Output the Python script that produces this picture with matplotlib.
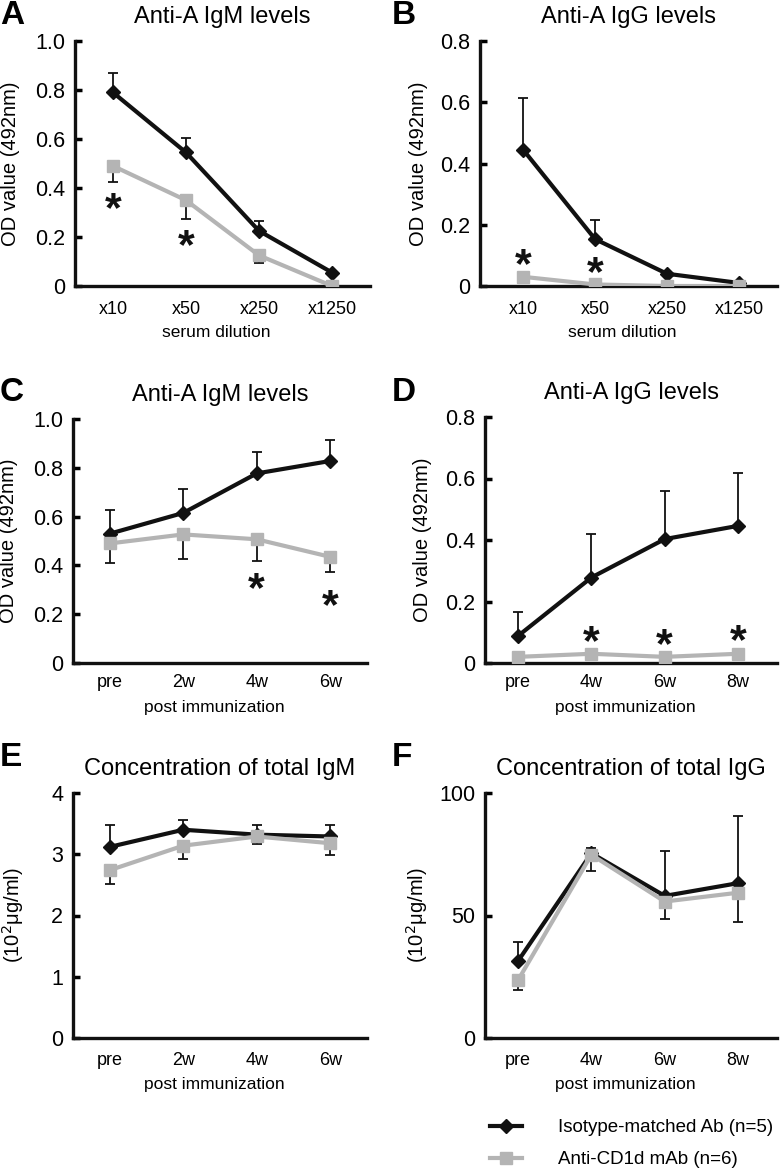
import numpy as np
import matplotlib
matplotlib.use("Agg")
import matplotlib.pyplot as plt

plt.rcParams['font.family'] = ['Liberation Sans', 'DejaVu Sans']

BLACK = '#111111'
GREY = '#b4b4b4'

dilution = ['x10', 'x50', 'x250', 'x1250']
weeks_m = ['pre', '2w', '4w', '6w']
weeks_g = ['pre', '4w', '6w', '8w']

# A: anti-A IgM, serum dilution
a_iso = [0.79, 0.545, 0.225, 0.055]
a_iso_err = [0.08, 0.06, 0.04, 0.0]
a_cd1d = [0.49, 0.35, 0.125, 0.0]
a_cd1d_err = [0.065, 0.075, 0.03, 0.0]
a_stars = [(0, 0.35), (1, 0.20)]

# B: anti-A IgG, serum dilution
b_iso = [0.445, 0.153, 0.04, 0.01]
b_iso_err = [0.17, 0.062, 0.0, 0.003]
b_cd1d = [0.03, 0.005, 0.0, 0.0]
b_cd1d_err = [0.0, 0.0, 0.0, 0.0]
b_stars = [(0, 0.098), (1, 0.069)]

# C: anti-A IgM, post immunization
c_iso = [0.53, 0.615, 0.777, 0.828]
c_iso_err = [0.095, 0.10, 0.087, 0.087]
c_cd1d = [0.49, 0.527, 0.507, 0.435]
c_cd1d_err = [0.08, 0.10, 0.087, 0.061]
c_stars = [(2, 0.34), (3, 0.27)]

# D: anti-A IgG, post immunization
d_iso = [0.088, 0.278, 0.403, 0.446]
d_iso_err = [0.078, 0.142, 0.157, 0.171]
d_cd1d = [0.02, 0.03, 0.02, 0.03]
d_cd1d_err = [0.0, 0.0, 0.0, 0.0]
d_stars = [(1, 0.096), (2, 0.085), (3, 0.10)]

# E: total IgM
e_iso = [3.12, 3.40, 3.32, 3.29]
e_iso_err = [0.36, 0.16, 0.16, 0.18]
e_cd1d = [2.74, 3.14, 3.29, 3.18]
e_cd1d_err = [0.22, 0.22, 0.12, 0.20]

# F: total IgG
f_iso = [31.4, 75.4, 58.0, 63.2]
f_iso_err = [7.9, 2.0, 18.5, 27.3]
f_cd1d = [23.6, 74.8, 55.7, 59.3]
f_cd1d_err = [4.1, 6.6, 7.3, 11.8]

od_ticks_1 = [0, 0.2, 0.4, 0.6, 0.8, 1.0]
od_labels_1 = ['0', '0.2', '0.4', '0.6', '0.8', '1.0']
od_ticks_08 = [0, 0.2, 0.4, 0.6, 0.8]
od_labels_08 = ['0', '0.2', '0.4', '0.6', '0.8']
igm_ticks = [0, 1, 2, 3, 4]
igm_labels = ['0', '1', '2', '3', '4']
igg_ticks = [0, 50, 100]
igg_labels = ['0', '50', '100']

W, H = 780, 1170
fig = plt.figure(figsize=(W / 100, H / 100), dpi=100)


def rect(x0, x1, ytop, ybot):
    return [x0 / W, 1 - ybot / H, (x1 - x0) / W, (ybot - ytop) / H]


def panel(r, cats, iso, iso_err, cd, cd_err, ylim, yt, ytl, title, ylab,
          xlab, xl, stars=(), ylab_x=-0.18, xlab_y=-0.17, xpad=11):
    ax = fig.add_axes(r)
    x = np.arange(len(cats))
    n = len(cats)
    ax.errorbar(x, iso, yerr=[[0] * n, iso_err], color=BLACK, lw=3,
                marker='D', ms=7, mfc=BLACK, mec=BLACK, ecolor=BLACK,
                elinewidth=1.3, capsize=3.5, capthick=1.3, zorder=3)
    ax.errorbar(x, cd, yerr=[cd_err, [0] * n], color=GREY, lw=3,
                marker='s', ms=9, mfc=GREY, mec=GREY, ecolor=BLACK,
                elinewidth=1.3, capsize=3.5, capthick=1.3, zorder=4)
    for sx, sy in stars:
        ax.annotate('*', (sx, sy), xytext=(0, -7), textcoords='offset points',
                    ha='center', va='center', fontsize=31, fontweight='bold',
                    color=BLACK)
    ax.set_xlim(*xl)
    ax.set_ylim(*ylim)
    ax.set_xticks(x)
    ax.set_xticklabels(cats, fontsize=13)
    ax.set_yticks(yt)
    ax.set_yticklabels(ytl, fontsize=15.5)
    ax.tick_params(axis='x', length=0, pad=xpad)
    ax.tick_params(axis='y', direction='in', length=5, width=2.5, pad=7)
    for s in ['top', 'right']:
        ax.spines[s].set_visible(False)
    for s in ['left', 'bottom']:
        ax.spines[s].set_linewidth(2.4)
        ax.spines[s].set_color(BLACK)
    ax.set_title(title, fontsize=17, pad=13)
    ax.set_ylabel(ylab, fontsize=14.5)
    ax.yaxis.set_label_coords(ylab_x, 0.5)
    ax.set_xlabel(xlab, fontsize=12.5)
    ax.xaxis.set_label_coords(0.48, xlab_y)
    return ax


odlab = 'OD value (492nm)'
conc = '(10$^2$μg/ml)'

panel(rect(75, 370, 41, 286), dilution, a_iso, a_iso_err, a_cd1d, a_cd1d_err,
      (0, 1.0), od_ticks_1, od_labels_1, 'Anti-A IgM levels', odlab,
      'serum dilution', (-0.52, 3.52), a_stars, ylab_x=-0.186, xlab_y=-0.16)
panel(rect(480, 777, 41, 286), dilution, b_iso, b_iso_err, b_cd1d, b_cd1d_err,
      (0, 0.8), od_ticks_08, od_labels_08, 'Anti-A IgG levels', odlab,
      'serum dilution', (-0.6, 3.53), b_stars, ylab_x=-0.175, xlab_y=-0.16)
panel(rect(73, 367, 419, 663), weeks_m, c_iso, c_iso_err, c_cd1d, c_cd1d_err,
      (0, 1.0), od_ticks_1, od_labels_1, 'Anti-A IgM levels', odlab,
      'post immunization', (-0.5, 3.5), c_stars, ylab_x=-0.186, xlab_y=-0.15,
      xpad=8)
panel(rect(485, 777, 417, 663), weeks_g, d_iso, d_iso_err, d_cd1d, d_cd1d_err,
      (0, 0.8), od_ticks_08, od_labels_08, 'Anti-A IgG levels', odlab,
      'post immunization', (-0.45, 3.53), d_stars, ylab_x=-0.18, xlab_y=-0.15,
      xpad=8)
panel(rect(73, 367, 793, 1038), weeks_m, e_iso, e_iso_err, e_cd1d, e_cd1d_err,
      (0, 4), igm_ticks, igm_labels, 'Concentration of total IgM', conc,
      'post immunization', (-0.5, 3.5), ylab_x=-0.16, xlab_y=-0.16, xpad=10)
panel(rect(485, 777, 793, 1038), weeks_g, f_iso, f_iso_err, f_cd1d,
      f_cd1d_err, (0, 100), igg_ticks, igg_labels,
      'Concentration of total IgG', conc, 'post immunization',
      (-0.45, 3.53), ylab_x=-0.19, xlab_y=-0.16, xpad=10)

for letter, px, py in [('A', 0, 15), ('B', 392, 15), ('C', 0, 393),
                       ('D', 392, 393), ('E', 0, 758), ('F', 392, 758)]:
    fig.text(px / W, 1 - py / H, letter, ha='left', va='center',
             fontsize=24, fontweight='bold')

h_iso = plt.Line2D([], [], color=BLACK, lw=3, marker='D', ms=7)
h_cd = plt.Line2D([], [], color=GREY, lw=3, marker='s', ms=9)
fig.legend([h_iso, h_cd], ['Isotype-matched Ab (n=5)', 'Anti-CD1d mAb (n=6)'],
           loc='upper left', bbox_to_anchor=(490 / W, 1 - 1119 / H),
           frameon=False, fontsize=13.5, handlelength=1.7,
           handletextpad=1.9, labelspacing=0.8, borderpad=0, borderaxespad=0)

fig.savefig('out.png', dpi=100)
